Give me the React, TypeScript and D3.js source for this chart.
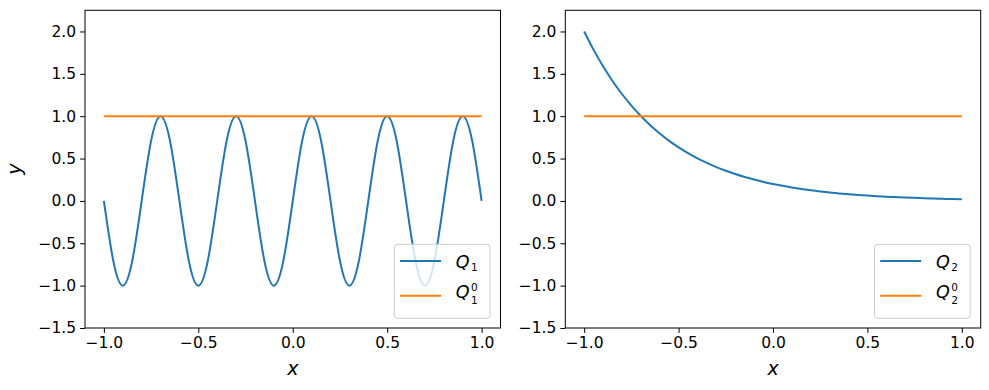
import React, { useEffect, useRef } from 'react';
import * as d3 from 'd3';

// sample grid shared by both panels
const xGrid = [
  -1.0, -0.95, -0.9, -0.85, -0.8, -0.75, -0.7, -0.65, -0.6, -0.55,
  -0.5, -0.45, -0.4, -0.35, -0.3, -0.25, -0.2, -0.15, -0.1, -0.05,
  0.0, 0.05, 0.1, 0.15, 0.2, 0.25, 0.3, 0.35, 0.4, 0.45,
  0.5, 0.55, 0.6, 0.65, 0.7, 0.75, 0.8, 0.85, 0.9, 0.95, 1.0,
];

const q1Values = [
  0, -0.71, -1, -0.71, 0, 0.71, 1, 0.71,
  0, -0.71, -1, -0.71, 0, 0.71, 1, 0.71,
  0, -0.71, -1, -0.71, 0, 0.71, 1, 0.71,
  0, -0.71, -1, -0.71, 0, 0.71, 1, 0.71,
  0, -0.71, -1, -0.71, 0, 0.71, 1, 0.71,
  0,
];

const q2Values = [
  2.0, 1.783, 1.589, 1.416, 1.262, 1.125, 1.002, 0.893, 0.796, 0.709,
  0.632, 0.564, 0.502, 0.448, 0.399, 0.356, 0.317, 0.283, 0.252, 0.224,
  0.2, 0.178, 0.159, 0.142, 0.126, 0.112, 0.1, 0.089, 0.08, 0.071,
  0.063, 0.056, 0.05, 0.045, 0.04, 0.036, 0.032, 0.028, 0.025, 0.022, 0.02,
];

const refX = [-1.0, 1.0];
const refValues = [1.0, 1.0];

const xTicks = [-1.0, -0.5, 0.0, 0.5, 1.0];
const yTicks = [-1.5, -1.0, -0.5, 0.0, 0.5, 1.0, 1.5, 2.0];

const panels = [
  { left: 85, right: 500.5, values: q1Values, sub: '1', yLabel: true },
  { left: 565.3, right: 980.7, values: q2Values, sub: '2', yLabel: false },
];

const BLUE = '#1f77b4';
const ORANGE = '#ff7f0e';
const FONT = 'DejaVu Sans, sans-serif';

const App: React.FC = () => {
  const svgRef = useRef<SVGSVGElement>(null);

  useEffect(() => {
    if (!svgRef.current) return;
    const svg = d3.select(svgRef.current);
    svg.selectAll('*').remove();

    const top = 10.3;
    const bottom = 328;
    const fmt = d3.format('.1f');

    panels.forEach(p => {
      const x = d3.scaleLinear().domain([-1.1, 1.1]).range([p.left, p.right]);
      const y = d3.scaleLinear().domain([-1.5, 2.25]).range([bottom, top]);

      const g = svg.append('g');

      // lines
      const line = d3.line<number>()
        .x((_, i) => x(xGrid[i]))
        .y(d => y(d))
        .curve(d3.curveNatural);

      const refLine = d3.line<number>()
        .x((_, i) => x(refX[i]))
        .y(d => y(d));

      g.append('path')
        .attr('d', line(p.values) || '')
        .attr('fill', 'none')
        .attr('stroke', BLUE)
        .attr('stroke-width', 2);

      g.append('path')
        .attr('d', refLine(refValues) || '')
        .attr('fill', 'none')
        .attr('stroke', ORANGE)
        .attr('stroke-width', 2);

      // axes
      const xAxis = g.append('g')
        .attr('transform', `translate(0,${bottom})`)
        .call(d3.axisBottom(x).tickValues(xTicks).tickFormat(d => fmt(d as number)).tickSize(4.9).tickPadding(4));
      const yAxis = g.append('g')
        .attr('transform', `translate(${p.left},0)`)
        .call(d3.axisLeft(y).tickValues(yTicks).tickFormat(d => fmt(d as number)).tickSize(4.9).tickPadding(4));

      [xAxis, yAxis].forEach(a => {
        a.select('.domain').remove();
        a.selectAll('line').attr('stroke', '#000').attr('stroke-width', 1);
        a.selectAll('text')
          .attr('fill', '#000')
          .style('font-family', FONT)
          .style('font-size', '15.5px');
      });

      // frame
      g.append('rect')
        .attr('x', p.left)
        .attr('y', top)
        .attr('width', p.right - p.left)
        .attr('height', bottom - top)
        .attr('fill', 'none')
        .attr('stroke', '#000')
        .attr('stroke-width', 1);

      // axis labels
      g.append('text')
        .attr('x', (p.left + p.right) / 2)
        .attr('y', 375)
        .attr('text-anchor', 'middle')
        .style('font-family', FONT)
        .style('font-style', 'italic')
        .style('font-size', '19px')
        .text('x');

      if (p.yLabel) {
        g.append('text')
          .attr('transform', `translate(21.4,${(top + bottom) / 2}) rotate(-90)`)
          .attr('text-anchor', 'middle')
          .style('font-family', FONT)
          .style('font-style', 'italic')
          .style('font-size', '19px')
          .text('y');
      }

      // legend
      const lx = p.right - 106.2;
      const ly = 244.3;
      const leg = g.append('g');
      leg.append('rect')
        .attr('x', lx)
        .attr('y', ly)
        .attr('width', 95.7)
        .attr('height', 74)
        .attr('rx', 3)
        .attr('fill', 'rgba(255,255,255,0.8)')
        .attr('stroke', '#cccccc')
        .attr('stroke-width', 1);

      const rows = [
        { color: BLUE, sup: '', lineY: 261, base: 268.3, subDy: 2.6 },
        { color: ORANGE, sup: '0', lineY: 295.7, base: 298.3, subDy: 5.4 },
      ];
      rows.forEach(r => {
        leg.append('line')
          .attr('x1', lx + 5.7)
          .attr('x2', lx + 46.7)
          .attr('y1', r.lineY)
          .attr('y2', r.lineY)
          .attr('stroke', r.color)
          .attr('stroke-width', 2);
        leg.append('text')
          .attr('x', lx + 61.5)
          .attr('y', r.base)
          .style('font-family', FONT)
          .style('font-style', 'italic')
          .style('font-size', '17.5px')
          .text('Q');
        leg.append('text')
          .attr('x', lx + 76.8)
          .attr('y', r.base + r.subDy)
          .style('font-family', FONT)
          .style('font-size', '10.5px')
          .text(p.sub);
        if (r.sup) {
          leg.append('text')
            .attr('x', lx + 76.8)
            .attr('y', r.base - 7.2)
            .style('font-family', FONT)
            .style('font-size', '10.5px')
            .text(r.sup);
        }
      });
    });
  }, []);

  return (
    <svg
      ref={svgRef}
      width={989}
      height={390}
      style={{ position: 'absolute', left: 0, top: 0, background: '#fff' }}
    />
  );
};

export default App;
